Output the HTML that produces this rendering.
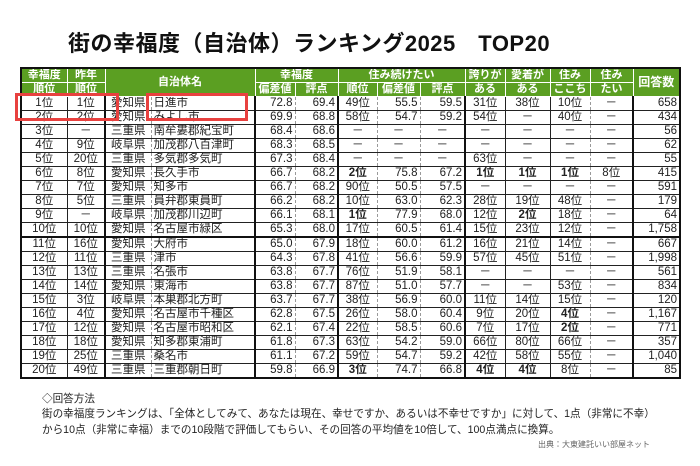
<!DOCTYPE html>
<html><head><meta charset="utf-8"><style>
body{margin:0;width:700px;height:466px;background:#fff;position:relative;overflow:hidden;font-family:"Liberation Sans","Noto Sans CJK JP",sans-serif;}
.title{position:absolute;left:68px;top:26px;font-size:22px;font-weight:bold;color:#111;letter-spacing:0.5px;}
table{position:absolute;left:20px;top:67px;border-collapse:collapse;table-layout:fixed;font-size:11.5px;color:#222;border:2px solid #111;}
td,th{padding:0 2px;height:13px;line-height:13px;border-top:1px solid #222;border-bottom:1px solid #222;white-space:nowrap;overflow:hidden;}
th{background:#5b9f22;color:#fff;font-weight:bold;font-size:11px;border:1px solid #fff;line-height:13px;padding:0;}
th.r2{height:13px;}
td{text-align:center;}
td.n{text-align:right;}
td.l{text-align:left;}
.g{border-left:2px solid #111;}
.d{border-left:1px dashed #999;}
.s{border-left:1px solid #222;}
b{font-weight:bold;}
tr.t td{border-top:2px solid #111;}
.box{position:absolute;border:3px solid #e8413f;}
.foot{position:absolute;left:42px;font-size:10.6px;color:#222;}
.src{position:absolute;left:538px;top:439px;font-size:8px;color:#666;}
</style></head><body>
<div class="title">街の幸福度（自治体）ランキング2025　TOP20</div>
<table>
<colgroup><col style="width:46px"><col style="width:38px"><col style="width:46px"><col style="width:104px"><col style="width:40px"><col style="width:43px"><col style="width:39px"><col style="width:43px"><col style="width:45px"><col style="width:40px"><col style="width:45px"><col style="width:40px"><col style="width:43px"><col style="width:47px"></colgroup>
<tr><th>幸福度</th><th>昨年</th><th colspan="2" rowspan="2">自治体名</th><th colspan="2">幸福度</th><th colspan="3">住み続けたい</th><th>誇りが</th><th>愛着が</th><th>住み</th><th>住み</th><th rowspan="2" style="font-size:12px">回答数</th></tr>
<tr><th class="r2">順位</th><th>順位</th><th>偏差値</th><th>評点</th><th>順位</th><th>偏差値</th><th>評点</th><th>ある</th><th>ある</th><th>ここち</th><th>たい</th></tr>
<tr><td>1位</td><td class="s">1位</td><td class="g">愛知県</td><td class="l d">日進市</td><td class="n g">72.8</td><td class="n d">69.4</td><td class="g">49位</td><td class="n d">55.5</td><td class="n d">59.5</td><td class="g">31位</td><td class="s">38位</td><td class="s">10位</td><td class="d">－</td><td class="n g">658</td></tr>
<tr><td>2位</td><td class="s">2位</td><td class="g">愛知県</td><td class="l d">みよし市</td><td class="n g">69.9</td><td class="n d">68.8</td><td class="g">58位</td><td class="n d">54.7</td><td class="n d">59.2</td><td class="g">54位</td><td class="s">－</td><td class="s">40位</td><td class="d">－</td><td class="n g">434</td></tr>
<tr><td>3位</td><td class="s">－</td><td class="g">三重県</td><td class="l d">南牟婁郡紀宝町</td><td class="n g">68.4</td><td class="n d">68.6</td><td class="g">－</td><td class="d">－</td><td class="d">－</td><td class="g">－</td><td class="s">－</td><td class="s">－</td><td class="d">－</td><td class="n g">56</td></tr>
<tr><td>4位</td><td class="s">9位</td><td class="g">岐阜県</td><td class="l d">加茂郡八百津町</td><td class="n g">68.3</td><td class="n d">68.5</td><td class="g">－</td><td class="d">－</td><td class="d">－</td><td class="g">－</td><td class="s">－</td><td class="s">－</td><td class="d">－</td><td class="n g">62</td></tr>
<tr><td>5位</td><td class="s">20位</td><td class="g">三重県</td><td class="l d">多気郡多気町</td><td class="n g">67.3</td><td class="n d">68.4</td><td class="g">－</td><td class="d">－</td><td class="d">－</td><td class="g">63位</td><td class="s">－</td><td class="s">－</td><td class="d">－</td><td class="n g">55</td></tr>
<tr><td>6位</td><td class="s">8位</td><td class="g">愛知県</td><td class="l d">長久手市</td><td class="n g">66.7</td><td class="n d">68.2</td><td class="g"><b>2位</b></td><td class="n d">75.8</td><td class="n d">67.2</td><td class="g"><b>1位</b></td><td class="s"><b>1位</b></td><td class="s"><b>1位</b></td><td class="d">8位</td><td class="n g">415</td></tr>
<tr><td>7位</td><td class="s">7位</td><td class="g">愛知県</td><td class="l d">知多市</td><td class="n g">66.7</td><td class="n d">68.2</td><td class="g">90位</td><td class="n d">50.5</td><td class="n d">57.5</td><td class="g">－</td><td class="s">－</td><td class="s">－</td><td class="d">－</td><td class="n g">591</td></tr>
<tr><td>8位</td><td class="s">5位</td><td class="g">三重県</td><td class="l d">員弁郡東員町</td><td class="n g">66.2</td><td class="n d">68.2</td><td class="g">10位</td><td class="n d">63.0</td><td class="n d">62.3</td><td class="g">28位</td><td class="s">19位</td><td class="s">48位</td><td class="d">－</td><td class="n g">179</td></tr>
<tr><td>9位</td><td class="s">－</td><td class="g">岐阜県</td><td class="l d">加茂郡川辺町</td><td class="n g">66.1</td><td class="n d">68.1</td><td class="g"><b>1位</b></td><td class="n d">77.9</td><td class="n d">68.0</td><td class="g">12位</td><td class="s"><b>2位</b></td><td class="s">18位</td><td class="d">－</td><td class="n g">64</td></tr>
<tr><td>10位</td><td class="s">10位</td><td class="g">愛知県</td><td class="l d">名古屋市緑区</td><td class="n g">65.3</td><td class="n d">68.0</td><td class="g">17位</td><td class="n d">60.5</td><td class="n d">61.4</td><td class="g">15位</td><td class="s">23位</td><td class="s">12位</td><td class="d">－</td><td class="n g">1,758</td></tr>
<tr class="t"><td>11位</td><td class="s">16位</td><td class="g">愛知県</td><td class="l d">大府市</td><td class="n g">65.0</td><td class="n d">67.9</td><td class="g">18位</td><td class="n d">60.0</td><td class="n d">61.2</td><td class="g">16位</td><td class="s">21位</td><td class="s">14位</td><td class="d">－</td><td class="n g">667</td></tr>
<tr><td>12位</td><td class="s">11位</td><td class="g">三重県</td><td class="l d">津市</td><td class="n g">64.3</td><td class="n d">67.8</td><td class="g">41位</td><td class="n d">56.6</td><td class="n d">59.9</td><td class="g">57位</td><td class="s">45位</td><td class="s">51位</td><td class="d">－</td><td class="n g">1,998</td></tr>
<tr><td>13位</td><td class="s">13位</td><td class="g">三重県</td><td class="l d">名張市</td><td class="n g">63.8</td><td class="n d">67.7</td><td class="g">76位</td><td class="n d">51.9</td><td class="n d">58.1</td><td class="g">－</td><td class="s">－</td><td class="s">－</td><td class="d">－</td><td class="n g">561</td></tr>
<tr><td>14位</td><td class="s">14位</td><td class="g">愛知県</td><td class="l d">東海市</td><td class="n g">63.8</td><td class="n d">67.7</td><td class="g">87位</td><td class="n d">51.0</td><td class="n d">57.7</td><td class="g">－</td><td class="s">－</td><td class="s">53位</td><td class="d">－</td><td class="n g">834</td></tr>
<tr><td>15位</td><td class="s">3位</td><td class="g">岐阜県</td><td class="l d">本巣郡北方町</td><td class="n g">63.7</td><td class="n d">67.7</td><td class="g">38位</td><td class="n d">56.9</td><td class="n d">60.0</td><td class="g">11位</td><td class="s">14位</td><td class="s">15位</td><td class="d">－</td><td class="n g">120</td></tr>
<tr><td>16位</td><td class="s">4位</td><td class="g">愛知県</td><td class="l d">名古屋市千種区</td><td class="n g">62.8</td><td class="n d">67.5</td><td class="g">26位</td><td class="n d">58.0</td><td class="n d">60.4</td><td class="g">9位</td><td class="s">20位</td><td class="s"><b>4位</b></td><td class="d">－</td><td class="n g">1,167</td></tr>
<tr><td>17位</td><td class="s">12位</td><td class="g">愛知県</td><td class="l d">名古屋市昭和区</td><td class="n g">62.1</td><td class="n d">67.4</td><td class="g">22位</td><td class="n d">58.5</td><td class="n d">60.6</td><td class="g">7位</td><td class="s">17位</td><td class="s"><b>2位</b></td><td class="d">－</td><td class="n g">771</td></tr>
<tr><td>18位</td><td class="s">18位</td><td class="g">愛知県</td><td class="l d">知多郡東浦町</td><td class="n g">61.8</td><td class="n d">67.3</td><td class="g">63位</td><td class="n d">54.2</td><td class="n d">59.0</td><td class="g">66位</td><td class="s">80位</td><td class="s">66位</td><td class="d">－</td><td class="n g">357</td></tr>
<tr><td>19位</td><td class="s">25位</td><td class="g">三重県</td><td class="l d">桑名市</td><td class="n g">61.1</td><td class="n d">67.2</td><td class="g">59位</td><td class="n d">54.7</td><td class="n d">59.2</td><td class="g">42位</td><td class="s">58位</td><td class="s">55位</td><td class="d">－</td><td class="n g">1,040</td></tr>
<tr><td>20位</td><td class="s">49位</td><td class="g">三重県</td><td class="l d">三重郡朝日町</td><td class="n g">59.8</td><td class="n d">66.9</td><td class="g"><b>3位</b></td><td class="n d">74.7</td><td class="n d">66.8</td><td class="g"><b>4位</b></td><td class="s"><b>4位</b></td><td class="s">8位</td><td class="d">－</td><td class="n g">85</td></tr>
</table>
<div class="box" style="left:15px;top:93px;width:98px;height:22px"></div>
<div class="box" style="left:146px;top:93px;width:96px;height:22px"></div>
<div class="foot" style="top:391px">◇回答方法</div>
<div class="foot" style="top:406px">街の幸福度ランキングは、「全体としてみて、あなたは現在、幸せですか、あるいは不幸せですか」に対して、1点（非常に不幸）</div>
<div class="foot" style="top:422px">から10点（非常に幸福）までの10段階で評価してもらい、その回答の平均値を10倍して、100点満点に換算。</div>
<div class="src">出典：大東建託いい部屋ネット</div>
</body></html>
